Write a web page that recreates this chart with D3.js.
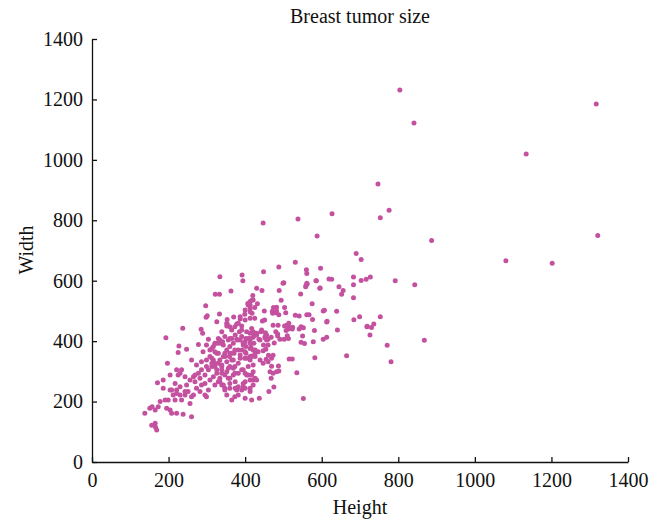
<!DOCTYPE html>
<meta charset='utf-8'>
<style>
body { margin: 0; background: #fff; }
svg text { font: 20px 'Liberation Serif', 'DejaVu Serif', serif; fill: #111; }
.dots circle { fill: #c4519f; }
.axis path, .axis line { stroke: #111; stroke-width: 1.3; }
</style>
<script src='https://cdn.jsdelivr.net/npm/d3@7/dist/d3.min.js'></script>
<body>
<script>
'use strict'

// Data - tumor [height, width] pairs

let title = 'Breast tumor size',
	x_label = 'Height', y_label = 'Width',
	x_ticks = [0, 200, 400, 600, 800, 1000, 1200, 1400],
	y_ticks = [0, 200, 400, 600, 800, 1000, 1200, 1400]

let outliers = [
	[804,1231],[841,1122],[1317,1185],[1134,1019],[1321,750],[1081,666],[1202,658],[887,733],
	[747,920],[753,808],[776,833],[447,791],[538,804],[627,822],[588,748],[690,690],[703,670],
	[597,641],[619,606],[626,605],[683,612],[703,601],[716,605],[727,612],[683,587],[645,580],
	[656,568],[652,555],[596,576],[792,600],[843,587],[683,544],[607,502],[639,499],[614,466],
	[684,471],[699,481],[753,481],[718,448],[730,445],[736,457],[641,437],[726,420],[771,386],
	[868,403],[781,332]]

let upper = [
	[531,661],[488,645],[448,630],[560,636],[499,592],[561,592],[559,584],[586,600],[595,575],
	[545,556],[430,575],[444,568],[489,568],[494,535],[575,524],[418,536],[413,520],[432,524],
	[474,511],[482,512],[471,499],[480,494],[503,511],[506,494],[450,500],[451,470],[445,467],
	[413,497],[425,476],[413,476],[604,500],[531,486],[541,483],[576,472],[473,453],[486,453],
	[503,450],[509,453],[515,445],[524,446],[541,440],[546,448],[552,444],[719,449],[480,431],
	[485,417],[507,435],[513,440],[581,435],[421,431],[430,426],[441,431],[453,428],[456,420],
	[421,413],[436,406],[452,411],[456,404],[460,406],[413,409],[413,393],[502,406],[513,409],
	[550,417],[555,392],[578,398],[613,413],[604,406],[413,376],[421,371],[434,365],[447,368],
	[448,387],[417,351],[426,349],[413,338],[421,321],[455,340],[461,353],[473,353],[515,341],
	[523,341],[582,345],[665,352],[469,317],[473,294],[488,301],[535,295],[430,271],[421,255],
	[413,271],[475,248],[462,233],[437,211],[552,210]]

let middle = [
	[334,613],[392,619],[394,600],[322,555],[333,555],[363,566],[501,593],[562,589],[558,580],
	[561,624],[585,600],[420,551],[413,531],[407,525],[333,490],[326,464],[353,472],[353,457],
	[370,480],[378,457],[387,473],[399,489],[400,470],[425,511],[418,492],[482,500],[472,492],
	[488,487],[514,459],[523,440],[561,487],[613,463],[567,487],[546,396],[510,418],[485,424],
	[491,406],[476,394],[468,413],[460,387],[454,373],[443,437],[452,415],[439,404],[430,420],
	[420,428],[413,404],[423,393],[415,380],[426,371],[402,409],[395,393],[402,382],[392,371],
	[402,360],[399,343],[374,420],[380,404],[369,393],[385,431],[365,409],[360,382],[352,371],
	[371,360],[359,349],[347,349],[365,338],[339,431],[330,409],[341,398],[326,393],[317,382],
	[321,365],[308,371],[308,349],[317,338],[330,327],[313,316],[326,305],[339,294],[317,282],
	[330,266],[343,255],[360,316],[369,288],[356,277],[374,266],[382,249],[395,305],[404,288],
	[417,288],[426,277],[395,260],[439,338],[447,327],[460,332],[465,299],[469,343],[482,299],
	[487,318],[468,277],[374,244],[400,244]]

let lower = [
	[237,443],[285,439],[289,426],[352,450],[373,448],[391,450],[193,411],[227,384],[225,362],
	[247,373],[278,389],[299,387],[290,365],[321,393],[334,393],[343,387],[356,404],[378,406],
	[391,415],[408,409],[413,426],[365,437],[197,327],[204,288],[171,262],[186,271],[221,305],
	[234,305],[225,288],[243,282],[217,260],[230,249],[221,238],[208,238],[212,222],[230,222],
	[199,205],[217,205],[234,205],[247,255],[251,233],[243,222],[260,216],[256,194],[269,266],
	[273,244],[282,233],[286,255],[295,222],[304,238],[265,282],[278,294],[286,305],[295,288],
	[304,305],[308,271],[326,294],[321,316],[334,277],[339,305],[347,288],[356,310],[360,277],
	[373,294],[373,316],[382,327],[391,305],[400,294],[408,316],[138,161],[151,178],[157,183],
	[165,172],[173,183],[178,200],[191,205],[195,178],[204,172],[208,161],[221,161],[238,158],
	[260,150],[165,128],[156,122],[166,115],[169,106],[339,255],[347,238],[360,244],[352,222],
	[373,216],[382,222],[365,205],[400,211],[417,205],[391,238],[413,244],[400,266],[421,271],
	[395,387],[400,365],[382,371],[365,360],[347,360],[334,338],[352,332],[369,338],[387,343],
	[404,343],[417,349],[326,360],[313,343],[299,338],[286,332],[321,327],[339,321]]

let extra = [
	[297,517],[301,484],[298,479],[304,406],[387,481],[400,503],[408,520],[421,536],[413,509],
	[382,459],[360,448],[352,459],[391,437],[404,431],[417,442],[334,404],[347,415],[360,409],
	[387,404],[400,398],[426,420],[313,376],[330,360],[343,349],[360,360],[373,371],[387,354],
	[413,349],[426,360],[260,338],[273,321],[299,316],[313,327],[339,316],[352,299],[369,310],
	[382,294],[408,288],[421,299],[230,294],[256,271],[269,288],[282,277],[295,260],[321,255],
	[334,266],[347,244],[360,260],[378,238],[395,249],[413,233],[186,244],[204,238],[221,227],
	[243,233],[265,222],[299,216]]

let data = [...outliers, ...upper, ...middle, ...lower, ...extra]

// Chart

let W = 660, H = 519,
	x = d3.scaleLinear([0, 1400], [92, 628]),
	y = d3.scaleLinear([0, 1400], [462, 39])

let svg = d3.select('body').append('svg').attr('width', W).attr('height', H)

svg.append('text').attr('x', 360).attr('y', 23)
	.attr('text-anchor', 'middle').text(title)

svg.append('g').attr('class', 'axis')
	.attr('transform', `translate(0,${y(0)})`)
	.call(d3.axisBottom(x).tickValues(x_ticks).tickFormat(d3.format('d'))
		.tickSizeInner(-5).tickSizeOuter(0).tickPadding(11))

svg.append('g').attr('class', 'axis')
	.attr('transform', `translate(${x(0)},0)`)
	.call(d3.axisLeft(y).tickValues(y_ticks).tickFormat(d3.format('d'))
		.tickSizeInner(-5).tickSizeOuter(0).tickPadding(9))

svg.selectAll('.axis').attr('font-size', null).attr('font-family', null)

svg.append('text').attr('x', 360).attr('y', 514)
	.attr('text-anchor', 'middle').text(x_label)

svg.append('text').attr('transform', 'translate(33,250) rotate(-90)')
	.attr('text-anchor', 'middle').text(y_label)

svg.append('g').attr('class', 'dots')
	.selectAll('circle')
	.data(data)
	.join('circle')
		.attr('cx', d => x(d[0]))
		.attr('cy', d => y(d[1]))
		.attr('r', 2.5)
</script>
